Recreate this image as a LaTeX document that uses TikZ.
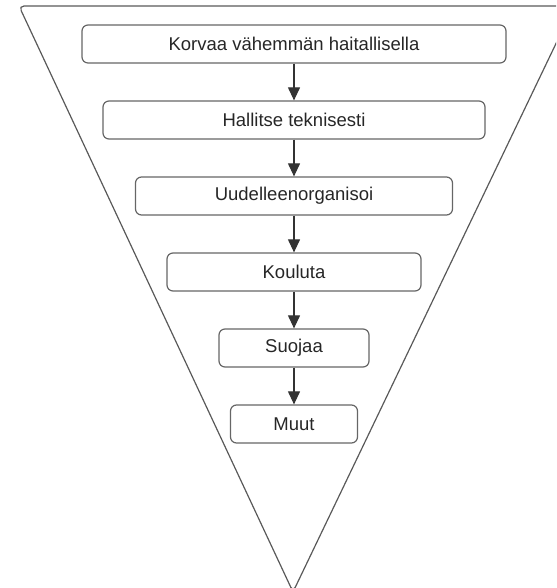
\documentclass[tikz,border=0pt]{standalone}
\usepackage{fontspec}
\setmainfont{Liberation Sans}
\usetikzlibrary{arrows.meta}
\begin{document}
\begin{tikzpicture}[x=1pt,y=1pt,
  stepbox/.style={draw=black!60, line width=1.2pt, rounded corners=6pt, minimum height=38pt, inner sep=0pt, font=\fontsize{18.5}{21}\selectfont, text=black!85},
  arr/.style={draw=black!80, line width=1.1pt, -{Triangle[length=13pt,width=12pt]}},
  funnel/.style={draw=black!65, line width=1.2pt, rounded corners=5pt}]
\useasboundingbox (0,0) rectangle (556,588);
\begin{scope}
\clip (0,0) rectangle (556,588);
\draw[funnel] (293,-4) -- (19,582) -- (574,582) -- cycle;
\end{scope}
\node[stepbox, minimum width=424pt] (b1) at (294,544) {Korvaa vähemmän haitallisella};
\node[stepbox, minimum width=382pt] (b2) at (294,468) {Hallitse teknisesti};
\node[stepbox, minimum width=317pt] (b3) at (294,392) {Uudelleenorganisoi};
\node[stepbox, minimum width=254pt] (b4) at (294,316) {Kouluta};
\node[stepbox, minimum width=150pt] (b5) at (294,240) {Suojaa};
\node[stepbox, minimum width=127pt] (b6) at (294,164) {Muut};
\draw[arr] (b1) -- (b2);
\draw[arr] (b2) -- (b3);
\draw[arr] (b3) -- (b4);
\draw[arr] (b4) -- (b5);
\draw[arr] (b5) -- (b6);
\end{tikzpicture}
\end{document}
